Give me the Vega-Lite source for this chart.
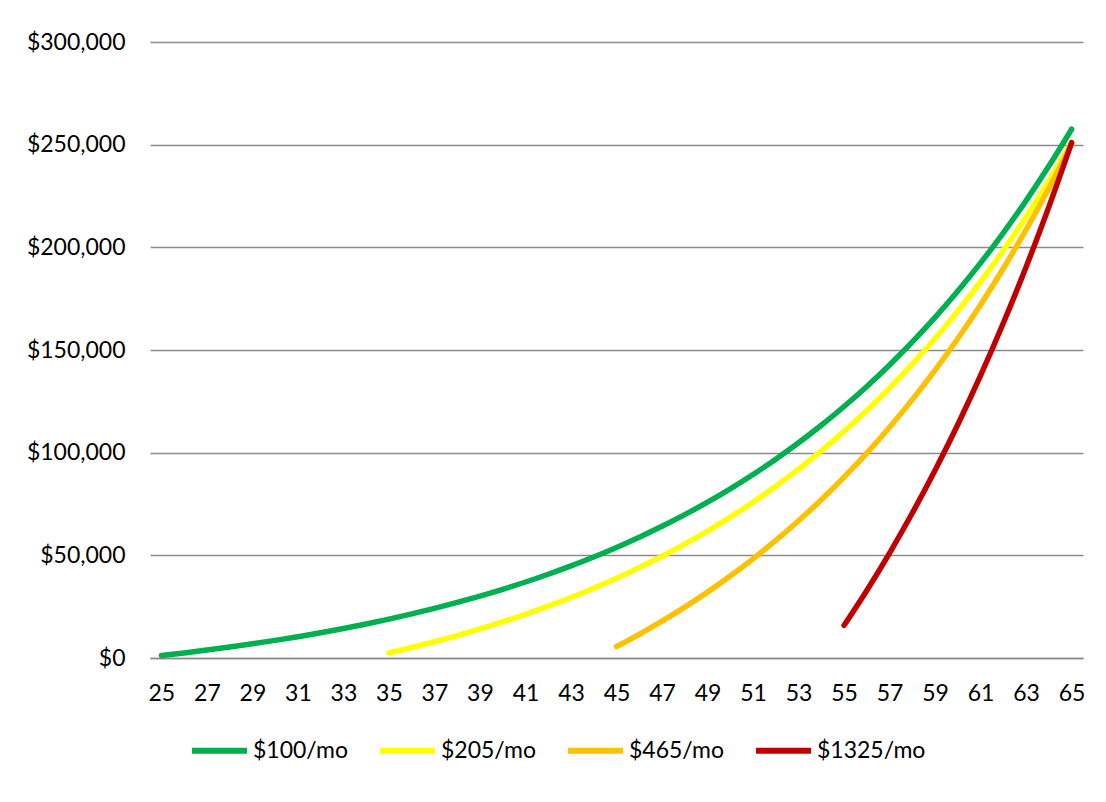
{
  "$schema": "https://vega.github.io/schema/vega-lite/v6.json",
  "width": 933,
  "height": 616,
  "autosize": {"type": "none"},
  "padding": {"left": 150, "top": 42, "right": 23, "bottom": 144},
  "background": "white",
  "config": {
    "font": "Lato",
    "view": {"stroke": null},
    "axis": {"labelFont": "Lato", "labelColor": "#000000", "labelFontSize": 23, "title": null}
  },
  "data": {
    "values": [
      {"age": 25, "value": 1200, "series": "$100/mo"},
      {"age": 26, "value": 2484, "series": "$100/mo"},
      {"age": 27, "value": 3858, "series": "$100/mo"},
      {"age": 28, "value": 5328, "series": "$100/mo"},
      {"age": 29, "value": 6901, "series": "$100/mo"},
      {"age": 30, "value": 8584, "series": "$100/mo"},
      {"age": 31, "value": 10385, "series": "$100/mo"},
      {"age": 32, "value": 12312, "series": "$100/mo"},
      {"age": 33, "value": 14374, "series": "$100/mo"},
      {"age": 34, "value": 16580, "series": "$100/mo"},
      {"age": 35, "value": 18940, "series": "$100/mo"},
      {"age": 36, "value": 21466, "series": "$100/mo"},
      {"age": 37, "value": 24169, "series": "$100/mo"},
      {"age": 38, "value": 27061, "series": "$100/mo"},
      {"age": 39, "value": 30155, "series": "$100/mo"},
      {"age": 40, "value": 33466, "series": "$100/mo"},
      {"age": 41, "value": 37008, "series": "$100/mo"},
      {"age": 42, "value": 40799, "series": "$100/mo"},
      {"age": 43, "value": 44855, "series": "$100/mo"},
      {"age": 44, "value": 49195, "series": "$100/mo"},
      {"age": 45, "value": 53838, "series": "$100/mo"},
      {"age": 46, "value": 58807, "series": "$100/mo"},
      {"age": 47, "value": 64123, "series": "$100/mo"},
      {"age": 48, "value": 69812, "series": "$100/mo"},
      {"age": 49, "value": 75899, "series": "$100/mo"},
      {"age": 50, "value": 82412, "series": "$100/mo"},
      {"age": 51, "value": 89381, "series": "$100/mo"},
      {"age": 52, "value": 96837, "series": "$100/mo"},
      {"age": 53, "value": 104816, "series": "$100/mo"},
      {"age": 54, "value": 113353, "series": "$100/mo"},
      {"age": 55, "value": 122487, "series": "$100/mo"},
      {"age": 56, "value": 132262, "series": "$100/mo"},
      {"age": 57, "value": 142721, "series": "$100/mo"},
      {"age": 58, "value": 153911, "series": "$100/mo"},
      {"age": 59, "value": 165884, "series": "$100/mo"},
      {"age": 60, "value": 178696, "series": "$100/mo"},
      {"age": 61, "value": 192405, "series": "$100/mo"},
      {"age": 62, "value": 207073, "series": "$100/mo"},
      {"age": 63, "value": 222768, "series": "$100/mo"},
      {"age": 64, "value": 239562, "series": "$100/mo"},
      {"age": 65, "value": 257532, "series": "$100/mo"},
      {"age": 35, "value": 2460, "series": "$205/mo"},
      {"age": 36, "value": 5092, "series": "$205/mo"},
      {"age": 37, "value": 7909, "series": "$205/mo"},
      {"age": 38, "value": 10922, "series": "$205/mo"},
      {"age": 39, "value": 14147, "series": "$205/mo"},
      {"age": 40, "value": 17597, "series": "$205/mo"},
      {"age": 41, "value": 21289, "series": "$205/mo"},
      {"age": 42, "value": 25239, "series": "$205/mo"},
      {"age": 43, "value": 29466, "series": "$205/mo"},
      {"age": 44, "value": 33988, "series": "$205/mo"},
      {"age": 45, "value": 38828, "series": "$205/mo"},
      {"age": 46, "value": 44006, "series": "$205/mo"},
      {"age": 47, "value": 49546, "series": "$205/mo"},
      {"age": 48, "value": 55474, "series": "$205/mo"},
      {"age": 49, "value": 61817, "series": "$205/mo"},
      {"age": 50, "value": 68605, "series": "$205/mo"},
      {"age": 51, "value": 75867, "series": "$205/mo"},
      {"age": 52, "value": 83638, "series": "$205/mo"},
      {"age": 53, "value": 91952, "series": "$205/mo"},
      {"age": 54, "value": 100849, "series": "$205/mo"},
      {"age": 55, "value": 110368, "series": "$205/mo"},
      {"age": 56, "value": 120554, "series": "$205/mo"},
      {"age": 57, "value": 131453, "series": "$205/mo"},
      {"age": 58, "value": 143115, "series": "$205/mo"},
      {"age": 59, "value": 155593, "series": "$205/mo"},
      {"age": 60, "value": 168944, "series": "$205/mo"},
      {"age": 61, "value": 183230, "series": "$205/mo"},
      {"age": 62, "value": 198516, "series": "$205/mo"},
      {"age": 63, "value": 214872, "series": "$205/mo"},
      {"age": 64, "value": 232374, "series": "$205/mo"},
      {"age": 65, "value": 251100, "series": "$205/mo"},
      {"age": 45, "value": 5580, "series": "$465/mo"},
      {"age": 46, "value": 11551, "series": "$465/mo"},
      {"age": 47, "value": 17939, "series": "$465/mo"},
      {"age": 48, "value": 24775, "series": "$465/mo"},
      {"age": 49, "value": 32089, "series": "$465/mo"},
      {"age": 50, "value": 39915, "series": "$465/mo"},
      {"age": 51, "value": 48289, "series": "$465/mo"},
      {"age": 52, "value": 57250, "series": "$465/mo"},
      {"age": 53, "value": 66837, "series": "$465/mo"},
      {"age": 54, "value": 77096, "series": "$465/mo"},
      {"age": 55, "value": 88072, "series": "$465/mo"},
      {"age": 56, "value": 99818, "series": "$465/mo"},
      {"age": 57, "value": 112385, "series": "$465/mo"},
      {"age": 58, "value": 125832, "series": "$465/mo"},
      {"age": 59, "value": 140220, "series": "$465/mo"},
      {"age": 60, "value": 155616, "series": "$465/mo"},
      {"age": 61, "value": 172088, "series": "$465/mo"},
      {"age": 62, "value": 189714, "series": "$465/mo"},
      {"age": 63, "value": 208575, "series": "$465/mo"},
      {"age": 64, "value": 228755, "series": "$465/mo"},
      {"age": 65, "value": 250348, "series": "$465/mo"},
      {"age": 55, "value": 15900, "series": "$1325/mo"},
      {"age": 56, "value": 32913, "series": "$1325/mo"},
      {"age": 57, "value": 51117, "series": "$1325/mo"},
      {"age": 58, "value": 70594, "series": "$1325/mo"},
      {"age": 59, "value": 91436, "series": "$1325/mo"},
      {"age": 60, "value": 113737, "series": "$1325/mo"},
      {"age": 61, "value": 137599, "series": "$1325/mo"},
      {"age": 62, "value": 163131, "series": "$1325/mo"},
      {"age": 63, "value": 190450, "series": "$1325/mo"},
      {"age": 64, "value": 219681, "series": "$1325/mo"},
      {"age": 65, "value": 250959, "series": "$1325/mo"}
    ]
  },
  "mark": {"type": "line", "strokeWidth": 5.5, "strokeCap": "round", "strokeJoin": "round", "interpolate": "monotone"},
  "encoding": {
    "x": {
      "field": "age",
      "type": "quantitative",
      "scale": {"domain": [24.5, 65.5], "nice": false, "zero": false},
      "axis": {
        "values": [25, 27, 29, 31, 33, 35, 37, 39, 41, 43, 45, 47, 49, 51, 53, 55, 57, 59, 61, 63, 65],
        "grid": false,
        "ticks": false,
        "domain": true,
        "domainColor": "#8c8c8c",
        "domainWidth": 1.5,
        "labelPadding": 24,
        "labelFlush": false
      }
    },
    "y": {
      "field": "value",
      "type": "quantitative",
      "scale": {"domain": [0, 300000], "nice": false},
      "axis": {
        "values": [0, 50000, 100000, 150000, 200000, 250000, 300000],
        "format": "$,.0f",
        "grid": true,
        "gridColor": "#8c8c8c",
        "gridWidth": 1.5,
        "ticks": false,
        "domain": false,
        "labelPadding": 25
      }
    },
    "color": {
      "field": "series",
      "type": "nominal",
      "scale": {
        "domain": ["$100/mo", "$205/mo", "$465/mo", "$1325/mo"],
        "range": ["#00B050", "#FFFF00", "#FFC000", "#C00000"]
      },
      "legend": {
        "title": null,
        "orient": "none",
        "direction": "horizontal",
        "legendX": 39,
        "legendY": 678,
        "symbolType": "stroke",
        "symbolSize": 3025,
        "symbolStrokeWidth": 6,
        "labelFont": "Lato",
        "labelFontSize": 23,
        "labelColor": "#000000",
        "labelOffset": 3,
        "columnPadding": 19,
        "labelLimit": 300
      }
    }
  }
}
